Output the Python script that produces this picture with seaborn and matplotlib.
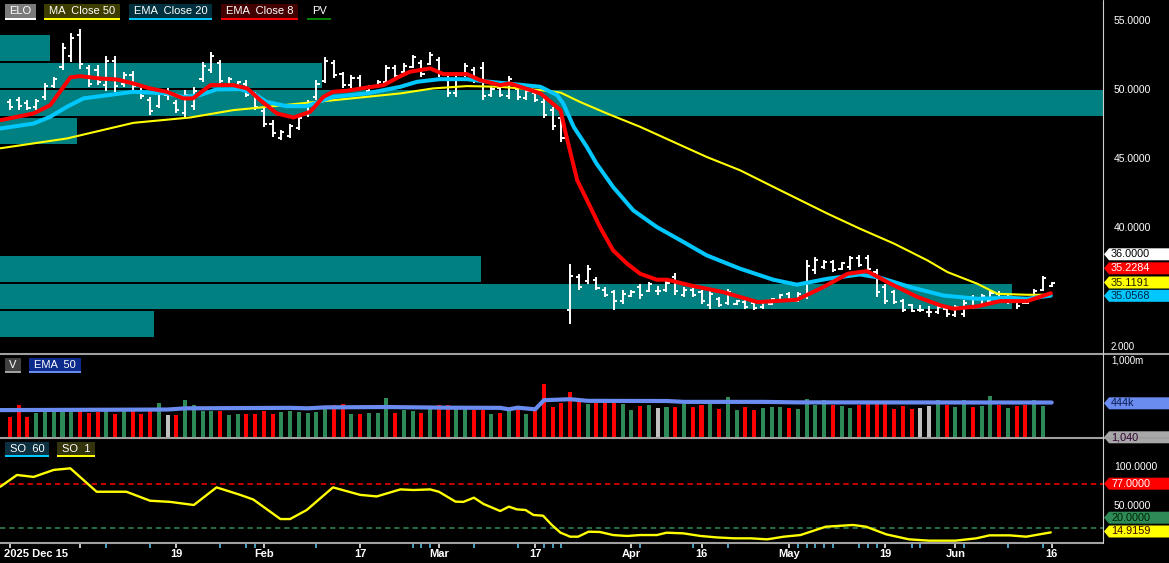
import matplotlib
matplotlib.use("Agg")
import matplotlib.pyplot as plt
import numpy as np
import seaborn as sns
from matplotlib.lines import Line2D
from matplotlib.patches import Polygon, Rectangle
from matplotlib.transforms import ScaledTranslation

# ---- price bars (one per session) ----
high = [49.32, 49.44, 49.20, 49.32, 50.41, 50.89, 53.31, 54.03, 54.32, 51.74,
        51.74, 52.39, 52.39, 51.26, 51.30, 50.05, 49.44, 49.93, 50.05, 49.20,
        49.93, 50.17, 51.98, 52.66, 52.10, 50.89, 50.58, 50.65, 49.81, 48.60,
        47.75, 47.03, 47.51, 48.12, 49.20, 50.65, 52.29, 52.10, 51.26, 51.01,
        51.01, 50.29, 50.65, 51.74, 51.74, 51.86, 52.46, 52.10, 52.70, 52.30,
        51.18, 51.26, 51.91, 51.62, 51.98, 50.17, 50.29, 50.94, 50.17, 50.05,
        49.81, 49.33, 48.72, 48.12, 37.37, 36.64, 37.25, 36.40, 35.67, 35.43,
        35.43, 35.49, 35.92, 36.04, 35.72, 36.11, 36.72, 35.67, 35.67, 35.43,
        35.43, 34.95, 35.56, 34.76, 34.71, 34.66, 34.71, 34.90, 35.19, 35.31,
        35.31, 37.66, 37.85, 37.61, 37.66, 37.49, 37.90, 37.97, 37.97, 37.01,
        35.92, 35.43, 34.83, 34.47, 34.35, 34.28, 34.35, 34.23, 34.35, 34.71,
        35.07, 35.14, 35.38, 35.38, 35.07, 34.83, 34.59, 35.56, 36.45, 36.04]
low = [48.48, 48.48, 48.48, 48.48, 49.20, 50.05, 51.38, 51.98, 51.43, 50.17,
       50.29, 49.88, 49.81, 50.17, 49.93, 49.32, 48.12, 48.60, 49.20, 48.24,
       48.00, 48.48, 50.53, 51.18, 50.29, 50.17, 50.17, 49.44, 48.48, 47.27,
       46.55, 46.30, 46.43, 47.03, 48.00, 49.20, 50.41, 50.77, 50.05, 50.05,
       49.93, 49.81, 50.05, 50.29, 50.77, 51.14, 51.50, 50.89, 51.74, 50.89,
       49.44, 49.44, 50.85, 50.41, 49.20, 49.44, 49.44, 49.25, 49.20, 49.20,
       49.08, 47.88, 47.03, 46.18, 33.02, 35.49, 35.92, 35.43, 34.95, 34.04,
       34.47, 34.95, 34.83, 35.31, 35.07, 35.31, 35.07, 34.95, 34.95, 34.47,
       34.11, 34.23, 34.35, 34.35, 34.11, 33.99, 34.11, 34.35, 34.59, 34.59,
       34.59, 34.83, 36.64, 37.01, 36.76, 36.88, 36.93, 37.13, 36.88, 34.95,
       34.47, 34.47, 33.86, 33.86, 33.86, 33.50, 33.75, 33.50, 33.50, 33.50,
       34.11, 34.23, 34.59, 34.59, 34.47, 34.11, 34.47, 34.71, 35.38, 35.67]
open_ = [49.10, 49.20, 49.00, 48.70, 49.40, 50.20, 51.60, 52.40, 53.90, 51.50,
         51.40, 50.30, 52.00, 50.40, 51.00, 49.90, 49.20, 48.80, 49.60, 49.00,
         48.30, 48.80, 50.70, 51.40, 51.90, 50.30, 50.25, 50.40, 49.60, 48.40,
         47.50, 46.50, 46.60, 47.20, 48.20, 49.40, 50.60, 51.90, 51.10, 50.30,
         50.80, 49.90, 50.15, 50.50, 51.50, 51.25, 51.60, 51.90, 51.85, 52.10,
         51.00, 49.70, 51.00, 51.40, 51.50, 49.55, 50.10, 49.50, 50.00, 49.35,
         49.70, 49.10, 48.50, 47.90, 34.00, 36.40, 36.10, 36.20, 35.50, 35.30,
         34.70, 35.05, 35.70, 35.40, 35.40, 35.45, 36.40, 35.10, 35.50, 35.30,
         34.40, 34.80, 34.50, 34.45, 34.60, 34.50, 34.20, 34.45, 34.70, 35.20,
         34.70, 35.00, 36.90, 37.10, 37.50, 37.00, 37.10, 37.80, 37.80, 36.80,
         35.70, 35.30, 34.70, 34.35, 34.05, 33.90, 33.85, 34.10, 33.65, 33.70,
         34.95, 34.35, 34.70, 35.20, 34.60, 34.70, 34.55, 34.80, 35.50, 35.75]
close = [48.70, 48.75, 48.65, 49.15, 50.20, 50.75, 53.00, 53.70, 51.80, 50.40,
         50.50, 52.00, 50.20, 51.00, 50.20, 49.50, 48.40, 49.70, 49.60, 48.50,
         49.60, 49.90, 51.70, 52.40, 50.60, 50.70, 50.50, 49.60, 48.70, 47.50,
         46.80, 46.90, 47.30, 47.90, 49.00, 50.40, 52.00, 51.00, 50.30, 50.80,
         50.10, 50.20, 50.50, 51.50, 50.95, 51.70, 52.30, 51.10, 52.50, 51.10,
         49.70, 51.00, 51.70, 50.60, 49.50, 50.00, 49.60, 50.70, 49.40, 49.85,
         49.20, 48.10, 47.30, 46.50, 36.50, 35.70, 37.00, 35.60, 35.10, 34.70,
         35.20, 35.35, 35.10, 35.90, 35.40, 35.95, 35.40, 35.50, 35.10, 34.70,
         35.20, 34.40, 35.30, 34.70, 34.25, 34.15, 34.60, 34.80, 35.10, 34.80,
         35.20, 37.20, 37.60, 37.50, 36.90, 37.40, 37.80, 37.30, 37.00, 35.30,
         34.70, 34.60, 34.00, 33.95, 34.05, 33.90, 34.25, 33.70, 34.20, 34.55,
         34.30, 35.00, 35.25, 34.75, 34.95, 34.30, 34.50, 35.40, 36.30, 36.00]

# ---- volume (thousands) and its colour code: G up, R down, N unchanged ----
volume_k = [267, 411, 267, 316, 329, 335, 335, 335, 335, 316,
            329, 335, 300, 335, 335, 300, 335, 440, 288, 288,
            481, 411, 341, 335, 341, 288, 300, 300, 300, 341,
            300, 329, 341, 329, 316, 329, 399, 411, 423, 300,
            300, 316, 316, 501, 316, 349, 337, 316, 358, 411,
            411, 358, 358, 349, 349, 300, 316, 349, 399, 300,
            341, 670, 390, 440, 575, 473, 423, 440, 440, 440,
            423, 349, 399, 411, 370, 390, 390, 423, 390, 411,
            432, 362, 514, 349, 390, 349, 378, 390, 385, 382,
            358, 493, 411, 473, 411, 399, 378, 411, 430, 430,
            430, 358, 399, 362, 382, 399, 473, 411, 390, 481,
            390, 399, 522, 411, 378, 399, 411, 481, 399, 1.04]
volume_dir = ("RRRGG" "GGGRR" "RGRGR" "RRGNR" "GGGGR" "GGRRR" "RGGGG" "GGRRG"
              "RGGGR" "GGRGR" "RGGRR" "GRGRG" "RRRRR" "RGRRR" "GGRGN" "GRGRR"
              "GRGGR" "RGGGR" "GGGGR" "GGRRR" "RRRRN" "NGRGG" "RGGRG" "RRGGG")

# ---- studies at bar positions ----
ma50_x = [-1.1, 6.5, 14.1, 20.6, 25.5, 29.4, 33.1, 37, 44.6, 48.3, 52.2, 56,
          60.6, 62.9, 65.1, 68.2, 72, 75.8, 79.6, 83.4, 88, 93.4, 97.1,
          101, 104.8, 107.1, 110.5, 112.8, 116.2, 118.9]
ma50_y = [45.72, 46.43, 47.56, 47.95, 48.48, 48.72, 48.96, 49.20, 49.69, 50.05,
          50.22, 50.17, 49.93, 49.75, 49.08, 48.24, 47.27, 46.18, 45.09, 44.13,
          42.68, 40.99, 39.90, 38.82, 37.61, 36.76, 35.92, 35.19, 35.12, 35.12]
ema20_x = [-1.1, 2.7, 4.6, 6.5, 8.4, 10.3, 14.1, 17.9, 19.8, 21.7, 23.6, 26.3,
           27.8, 29.3, 31.6, 33.9, 35.8, 36.9, 40.8, 44.6, 46.5, 49.1, 52.2,
           53.7, 56, 59.8, 60.6, 62.5, 63.2, 64.4, 65.9, 67, 68.9, 71.2, 73.9,
           76.6, 79.6, 83.4, 87.2, 89.9, 93.4, 97.1, 99.4, 102.9, 106.6, 110.5,
           114.3, 116.2, 118.9]
ema20_y = [47.15, 47.51, 48.00, 48.72, 49.33, 49.49, 49.81, 49.69, 49.44, 49.57,
           49.98, 50.00, 49.69, 49.08, 48.77, 48.77, 49.20, 49.44, 49.69, 50.17,
           50.53, 50.72, 50.72, 50.60, 50.46, 50.22, 50.17, 49.57, 48.96, 47.27,
           45.82, 44.62, 42.92, 41.23, 40.02, 39.06, 37.97, 37.01, 36.21, 35.85,
           36.28, 36.59, 36.35, 35.67, 35.07, 34.83, 34.90, 34.83, 35.06]
ema8_x = [-1.1, 2.7, 4.6, 6.9, 8, 10.3, 12.2, 14.1, 16, 17.9, 19.8, 20.9, 22.9,
          25.5, 27.1, 28.6, 30.5, 32.4, 34.3, 35.8, 36.9, 38.5, 40.8, 42.7,
          44.6, 45.7, 48, 49.5, 52.2, 53.7, 56, 57.1, 58.3, 60.6, 62.9, 63.4,
          64.8, 66.3, 67.4, 68.9, 70.5, 72, 73.9, 75.1, 77.7, 81.5, 85.4, 89.9,
          92.9, 95.7, 97.9, 100.6, 103.7, 106.3, 107.8, 110.5, 113.1, 116.2,
          118.9]
ema8_y = [47.75, 48.24, 48.84, 50.85, 50.94, 50.77, 50.70, 50.41, 50.05, 49.81,
          49.33, 49.33, 50.29, 50.29, 50.05, 49.20, 48.24, 47.95, 48.36, 49.44,
          49.81, 49.88, 50.12, 50.29, 50.94, 51.26, 51.50, 51.09, 51.09, 50.65,
          50.29, 50.41, 50.17, 49.69, 48.48, 47.03, 43.41, 41.47, 40.02, 38.33,
          37.37, 36.64, 36.21, 36.21, 35.80, 35.31, 34.59, 34.76, 35.67, 36.64,
          36.83, 35.92, 34.95, 34.35, 34.11, 34.28, 34.66, 34.66, 35.23]
vol_ema_x = [-1.1, 18, 20, 32, 34, 36, 43, 50, 56, 57, 58, 60, 61, 64, 66, 75,
             77, 86, 90, 119]
vol_ema_y = [350, 357, 372, 378, 372, 384, 388, 380, 378, 360, 380, 360, 473,
             485, 465, 463, 452, 452, 446, 444]
so_x = [-1.1, 0.8, 2.7, 5, 6.9, 9.9, 13.3, 16, 18.3, 21, 23.6, 26.3, 27.8, 30.9,
        32, 33.9, 36.9, 40, 41.9, 44.6, 46.1, 48, 49, 50.9, 51.8, 53, 54.1, 56,
        57, 57.9, 58.9, 59.8, 60.9, 61.9, 62.9, 64, 64.9, 66.1, 67.4, 68.9,
        70.5, 72, 73.9, 75, 76.9, 78.9, 80.7, 82.7, 84.6, 86.5, 88.4, 90.3,
        93.2, 96.3, 97.8, 100.1, 102.7, 105, 108, 110.4, 111.9, 114.2, 116.1,
        118.9]
so_y = [73.5, 88.5, 86, 95, 97, 67, 67, 55.5, 54, 50, 72.6, 63, 57, 32, 32,
        43.6, 72.6, 63, 61, 70, 69.2, 70, 67, 54.3, 54, 59.4, 51.3, 42.3, 47.9,
        44.4, 43.6, 37.2, 36.3, 24.4, 14.5, 9.4, 9.4, 15.8, 15.4, 11.5, 10.3,
        11.5, 11.5, 14.5, 13.7, 10.3, 8.5, 7.3, 7.3, 6, 9.4, 11.5, 22.2, 24.4,
        22.2, 12.4, 6, 4.3, 4.3, 7.3, 11.1, 11.1, 9.4, 14.92]

# ---- price zones: low, high, last bar covered ----
zone_lo = [52.03, 50.07, 48.04, 46.01, 36.01, 34.06, 32.03]
zone_hi = [53.91, 51.88, 49.93, 47.90, 37.90, 35.87, 33.91]
zone_end = [4.6, 35.7, 130, 7.7, 53.8, 114.5, 16.5]

date_pos = [0, 8, 19, 29, 40, 49, 60, 71, 79, 89, 100, 108, 119]
date_lab = ["2025 Dec 15", "", "19", "Feb", "17", "Mar", "17", "Apr", "16",
            "May", "19", "Jun", "16"]
minor_pos = [11, 16, 24, 27, 28, 35, 46, 47, 48, 53, 58, 61, 62, 63, 72, 78,
             82, 90, 91, 92, 93, 94, 97, 98, 99, 103, 104, 109, 114, 118]

W, H = 1169, 563
XLIM = (-1.14, 124.9)

sns.set_theme(style="dark", rc={"axes.facecolor": "black", "figure.facecolor": "black"})
plt.rcParams["font.family"] = ["Liberation Sans", "DejaVu Sans"]

fig = plt.figure(figsize=(W / 100, H / 100), dpi=100)


def rect(x0, y0, x1, y1):
    return [x0 / W, 1 - y1 / H, (x1 - x0) / W, (y1 - y0) / H]


def fpt(x, y):
    return (x / W, 1 - y / H)


ax = fig.add_axes(rect(0, 0, 1103.3, 353.5))
axv = fig.add_axes(rect(0, 354.5, 1103.3, 438.3))
axs = fig.add_axes(rect(0, 438.3, 1103.3, 542.3))

for a in (ax, axv, axs):
    a.set_facecolor("black")
    a.set_xlim(*XLIM)
    for s in a.spines.values():
        s.set_visible(False)
    a.grid(False)

# ---- main price panel ----
for lo, hi, end in zip(zone_lo, zone_hi, zone_end):
    ax.fill_between([-2, end], lo, hi, color="#008080", lw=0, zorder=1)

idx = np.arange(len(close))
ax.vlines(idx, low, high, color="white", lw=1.4, zorder=3)
ax.hlines(open_, idx - 0.36, idx, color="white", lw=1.4, zorder=3)
ax.hlines(close, idx, idx + 0.36, color="white", lw=1.4, zorder=3)

sns.lineplot(x=ma50_x, y=ma50_y, ax=ax, color="#ffff00", lw=1.5, zorder=4)
sns.lineplot(x=ema20_x, y=ema20_y, ax=ax, color="#00c8ff", lw=2.9, zorder=5)
sns.lineplot(x=ema8_x, y=ema8_y, ax=ax, color="#ff0000", lw=2.9, zorder=6)

ax.set_ylim(30.87, 56.45)
ax.set_xticks([])
ax.yaxis.tick_right()
ax.set_yticks([40, 45, 50, 55])
ax.set_yticklabels(["40.0000", "45.0000", "50.0000", "55.0000"])
ax.tick_params(axis="y", length=0, pad=7.5, labelsize=7.5, labelcolor="white")
ax.set_xlabel("")
ax.set_ylabel("")

# ---- volume panel ----
vcol = {"G": "#2e8b57", "R": "#ff0000", "N": "#c0c0c0"}
axv.bar(idx, volume_k, width=0.46, color=[vcol[c] for c in volume_dir],
        edgecolor="none", linewidth=0, zorder=2)
sns.lineplot(x=vol_ema_x, y=vol_ema_y, ax=axv, color="#6a8bef", lw=3,
             solid_capstyle="round", zorder=3)
axv.set_ylim(0, 1040)
axv.set_xticks([])
axv.set_yticks([])
axv.set_xlabel("")
axv.set_ylabel("")

# ---- stochastic panel ----
axs.axhline(77, color="#ff0000", lw=1.1, ls=(0, (3.5, 2.5)), zorder=2)
axs.axhline(20, color="#2e8b57", lw=1.1, ls=(0, (3.5, 2.5)), zorder=2)
sns.lineplot(x=so_x, y=so_y, ax=axs, color="#ffff00", lw=1.7, zorder=3)
axs.set_ylim(2.2, 135.5)
axs.yaxis.tick_right()
axs.set_yticks([50, 100])
axs.set_yticklabels(["50.0000", "100.0000"])
axs.tick_params(axis="y", length=0, pad=7.5, labelsize=7.5, labelcolor="white")
axs.set_xticks(date_pos)
axs.set_xticklabels(date_lab)
axs.set_xticks(minor_pos, minor=True)
axs.tick_params(axis="x", which="major", direction="out", length=4.5, width=1.1,
                color="white", labelcolor="white", labelsize=8, pad=0.5)
axs.tick_params(axis="x", which="minor", direction="out", length=4.5, width=1.1,
                color="#5bc8f5")
axs.xaxis.set_tick_params(bottom=True, which="both")
for t in axs.get_xticklabels():
    t.set_fontweight("bold")
first = axs.get_xticklabels()[0]
first.set_ha("left")
first.set_transform(first.get_transform() + ScaledTranslation(-6 / 100, 0, fig.dpi_scale_trans))
axs.set_xlabel("")
axs.set_ylabel("")

# ---- frame lines ----
line_kw = dict(transform=fig.transFigure, color="#a0a0a0", lw=1.5)
fig.lines.append(Line2D([0, 1], [1 - 353.8 / H] * 2, **line_kw))
fig.lines.append(Line2D([0, 1], [1 - 438.0 / H] * 2, **line_kw))
fig.lines.append(Line2D([0, 1103.3 / W], [1 - 542.5 / H] * 2, **line_kw))
fig.lines.append(Line2D([1103.3 / W] * 2, [1, 1 - 542.5 / H], transform=fig.transFigure,
                        color="#d0d0d0", lw=0.8))

# ---- legend boxes ----
def legend_box(x0, x1, y0, y1, label, bg, under):
    fig.patches.append(Rectangle(fpt(x0, y1), (x1 - x0) / W, (y1 - y0) / H,
                                 transform=fig.transFigure, fc=bg, ec="none"))
    fig.patches.append(Rectangle(fpt(x0, y1 + 2.2), (x1 - x0) / W, 2 / H,
                                 transform=fig.transFigure, fc=under, ec="none"))
    fig.text((x0 + x1) / 2 / W, 1 - (y0 + y1) / 2 / H, label, color="white",
             fontsize=8, ha="center", va="center")


legend_box(5, 36, 4, 18, "ELO", "#7a7a7a", "#ffffff")
legend_box(44, 120, 4, 18, "MA  Close 50", "#3d3d00", "#ffff00")
legend_box(129, 212, 4, 18, "EMA  Close 20", "#00303d", "#00c8ff")
legend_box(221, 298, 4, 18, "EMA  Close 8", "#420000", "#ff0000")
legend_box(307, 331, 4, 18, "PV", "#000000", "#008000")
legend_box(5, 21, 358, 371, "V", "#404040", "#a0a0a0")
legend_box(29, 81, 358, 371, "EMA  50", "#0c2a8c", "#6a8bef")
legend_box(5, 49, 442, 455, "SO  60", "#0c3040", "#00c8ff")
legend_box(57, 95, 442, 455, "SO  1", "#33330c", "#ffff00")

# ---- value tags on the right ----
def tag(y, label, bg, fg):
    pts = [fpt(1104, y), fpt(1109, y - 6), fpt(1169, y - 6), fpt(1169, y + 6), fpt(1109, y + 6)]
    fig.patches.append(Polygon(pts, closed=True, transform=fig.transFigure, fc=bg, ec="none"))
    fig.text(1111 / W, 1 - y / H, label, color=fg, fontsize=7.8, ha="left", va="center")


tag(254.3, "36.0000", "#ffffff", "#000000")
tag(268.3, "35.2284", "#ff0000", "#ffffff")
tag(282.5, "35.1191", "#ffff00", "#202000")
tag(295.8, "35.0568", "#00c8ff", "#002040")
tag(403.3, "444k", "#6a8bef", "#0a1a50")
tag(437.3, "1,040", "#a8a8a8", "#300030")
tag(483.7, "77.0000", "#ff0000", "#ffffff")
tag(517.7, "20.0000", "#2e8b57", "#002000")
tag(531.5, "14.9159", "#ffff00", "#400000")

# lowest price label and top volume label sit at the panel seam
fig.text(1111 / W, 1 - 347.5 / H, "2.000", color="white", fontsize=7, ha="left", va="center")
fig.text(1111 / W, 1 - 360.5 / H, "1,000m", color="white", fontsize=7, ha="left", va="center")

fig.savefig("out.png", dpi=100, facecolor="black")
